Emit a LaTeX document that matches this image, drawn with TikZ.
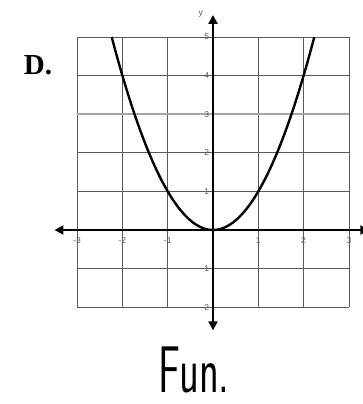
\documentclass[tikz,border=0pt]{standalone}
\usepackage{fontspec}
\newfontfamily\tickfont{Liberation Sans}
\newfontfamily\labelfont{Liberation Serif}
\usetikzlibrary{arrows.meta}
\tikzset{
  gridline/.style={draw=black!65, line width=0.8pt},
  axisline/.style={draw=black, line width=2pt, -{Triangle[length=9pt,width=9pt]}},
  ticklbl/.style={font=\tickfont\fontsize{8.5}{8.5}\selectfont, text=black!65, inner sep=0.5pt},
  curve/.style={draw=black, line width=2.4pt},
}
\begin{document}
\begin{tikzpicture}[x=1pt,y=1pt]
\useasboundingbox (0,0) rectangle (362,404);
\node[font=\labelfont\bfseries\fontsize{29}{29}\selectfont] (D) at (38,339) {D.};
\begin{scope}[shift={(213,174)}, x=45.3pt, y=38.6pt]
  \foreach \i in {-3,...,3}
    \draw[gridline] (\i,-2) -- (\i,5);
  \foreach \j in {-2,-1,0,1,2,4,5}
    \draw[gridline] (-3,\j) -- (3,\j);
  \draw[draw=black!35, line width=2pt] (-3,3) -- (3,3);
  \coordinate (o) at (0,0);
  \coordinate (xl) at (-3.5,0);
  \coordinate (xr) at (3.45,0);
  \coordinate (yt) at (0,5.57);
  \coordinate (yb) at (0,-2.6);
  \draw[axisline] (o) -- (xl);
  \draw[axisline] (o) -- (xr);
  \draw[axisline] (o) -- (yt);
  \draw[axisline] (o) -- (yb);
  \foreach \i in {-3,-2,-1,1,2,3}
    \node[ticklbl] (xt\i) at (\i,-0.27) {\i};
  \foreach \j in {-2,-1,1,2,3,4,5}
    \node[ticklbl, anchor=east] (yt\j) at (-0.07,\j) {\j};
  \node[ticklbl] (ylab) at (-0.27,5.58) {y};
  \draw[curve] plot[domain=-2.236:2.236, samples=80, smooth] (\x,{\x*\x});
\end{scope}
\node[font=\sffamily\fontsize{66}{66}\selectfont, xscale=0.62, anchor=base, inner sep=0pt] (fun) at (194,12) {Fun.};
\end{tikzpicture}
\end{document}
